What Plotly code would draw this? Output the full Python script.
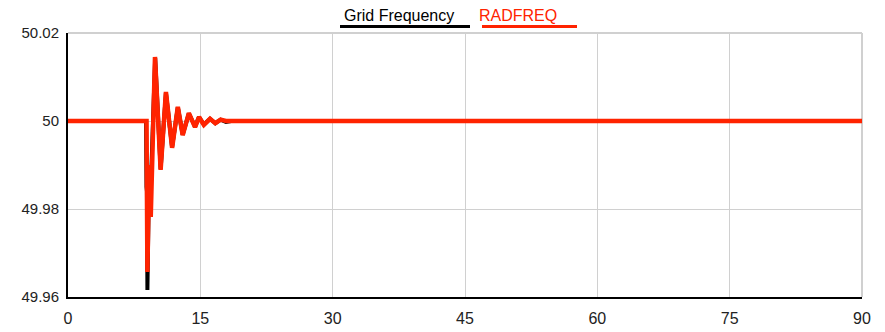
import plotly.graph_objects as go

# Time axis (s) and frequency (Hz) samples for both signals
grid_t = [0, 8.85, 8.9, 8.95, 9.0, 9.2, 9.38, 9.88, 10.5, 11.1, 11.8, 12.45,
          13.0, 13.7, 14.4, 14.85, 15.4, 16.1, 16.7, 17.3, 17.9, 18.5, 90]
grid_f = [50.0, 50.0, 49.985, 49.984, 49.9616, 49.990, 49.9846, 50.0143, 49.9891,
          50.0064, 49.9941, 50.0031, 49.9969, 50.0017, 49.9987, 50.0009, 49.9992,
          50.0005, 49.9995, 50.0003, 49.9998, 50.0, 50.0]

rad_t = [0, 8.9, 9.0, 9.2, 9.38, 9.86, 10.5, 11.1, 11.8, 12.45, 13.0, 13.7,
         14.4, 14.85, 15.4, 16.1, 16.7, 17.3, 17.9, 90]
rad_f = [50.0, 50.0, 49.9657, 49.990, 49.9782, 50.01455, 49.9889, 50.0066,
         49.9939, 50.0032, 49.9968, 50.0018, 49.9986, 50.0009, 49.9991, 50.0005,
         49.9995, 50.0003, 50.0, 50.0]

x_ticks = [0, 15, 30, 45, 60, 75, 90]
y_ticks = [49.96, 49.98, 50.0, 50.02]
y_tick_text = ["49.96", "49.98", "50", "50.02"]

BLACK = "#000000"
RED = "#ff2300"

fig = go.Figure()
fig.add_trace(go.Scatter(x=grid_t, y=grid_f, mode="lines", name="Grid Frequency",
                         line=dict(color=BLACK, width=4)))
fig.add_trace(go.Scatter(x=rad_t, y=rad_f, mode="lines", name="RADFREQ",
                         line=dict(color=RED, width=4.5)))

W, H = 885, 332
ml, mr, mt, mb = 68, 23, 33, 35
pw, ph = W - ml - mr, H - mt - mb


def px(x):
    return (x - ml) / pw


def py(y):
    return (H - mb - y) / ph


font_family = "Liberation Sans, Arial, sans-serif"

fig.update_layout(
    width=W, height=H,
    margin=dict(l=ml, r=mr, t=mt, b=mb, autoexpand=False),
    paper_bgcolor="white", plot_bgcolor="white",
    showlegend=False,
    font=dict(family=font_family, color="#222222"),
    xaxis=dict(range=[0, 90], tickvals=x_ticks, ticktext=[str(v) for v in x_ticks],
               showgrid=True, gridcolor="#d0d0d0", gridwidth=1,
               showline=True, linecolor=BLACK, linewidth=2,
               zeroline=False, ticks="", tickfont=dict(size=16, color="#222"),
               ticklabelstandoff=6, automargin=False),
    yaxis=dict(range=[49.96, 50.02], tickvals=y_ticks, ticktext=y_tick_text,
               showgrid=True, gridcolor="#d0d0d0", gridwidth=1,
               showline=True, linecolor=BLACK, linewidth=2,
               zeroline=False, ticks="", tickfont=dict(size=15, color="#222"),
               ticklabelstandoff=4, automargin=False),
)

# light frame on top and right edges
fig.add_shape(type="line", xref="paper", yref="paper", x0=0, x1=1, y0=1, y1=1,
              line=dict(color="#d0d0d0", width=2), layer="below")
fig.add_shape(type="line", xref="paper", yref="paper", x0=1, x1=1, y0=0, y1=1,
              line=dict(color="#d0d0d0", width=2), layer="below")

# legend entries: text with a coloured underline
legend = [("Grid Frequency", BLACK, 399, 340, 470),
          ("RADFREQ", RED, 518, 482, 577)]
for label, color, cx, u0, u1 in legend:
    fig.add_annotation(text=label, xref="paper", yref="paper", x=px(cx), y=py(16),
                       xanchor="center", yanchor="middle", showarrow=False,
                       font=dict(size=16, color=color, family=font_family))
    fig.add_shape(type="line", xref="paper", yref="paper", x0=px(u0), x1=px(u1),
                  y0=py(26.5), y1=py(26.5), line=dict(color=color, width=3))

fig.write_html("out.html")
